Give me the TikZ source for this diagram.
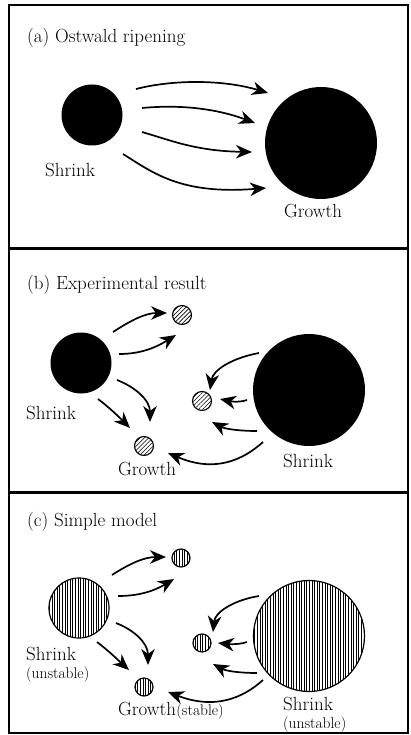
\documentclass[tikz,border=0pt]{standalone}
\usetikzlibrary{arrows.meta,patterns.meta}
\begin{document}
\begin{tikzpicture}[x=1pt,y=-1pt,
  arr/.style={-{Stealth[length=16pt,width=13.5pt,inset=5pt]}, line width=1.7pt},
  frame/.style={line width=1.3pt},
  lbl/.style={inner sep=0pt, anchor=base west, font=\fontsize{19}{22}\selectfont},
  slbl/.style={inner sep=0pt, anchor=base west, font=\fontsize{15.5}{18}\selectfont},
  blk/.style={circle, fill=black, inner sep=0pt, minimum size=#1},
  hb/.style={circle, draw, line width=1.1pt, inner sep=0pt, minimum size=#1,
    pattern={Lines[angle=45,distance=3pt,line width=0.6pt]}},
  hc/.style={circle, draw, line width=1.2pt, inner sep=0pt, minimum size=#1,
    pattern={Lines[angle=90,distance=2.6pt,line width=0.75pt]}}]
\useasboundingbox (0,0) rectangle (410,735);
% frames
\draw[frame] (9,5) rectangle (408,248);
\draw[frame] (9,249) rectangle (408,492);
\draw[frame] (9,493) rectangle (408,733);

% ---------- (a)
\node[lbl] (ta) at (27,43) {(a) Ostwald ripening};
\node[blk=61pt] (as) at (92,115) {};
\node[blk=112pt] (ag) at (321,143) {};
\node[lbl] (las) at (45,177) {Shrink};
\node[lbl] (lag) at (284,218) {Growth};
\coordinate (a1s) at (136,89);  \coordinate (a1e) at (268,93);
\coordinate (a2s) at (142,108); \coordinate (a2e) at (255,123);
\coordinate (a3s) at (142,132); \coordinate (a3e) at (252,152);
\coordinate (a4s) at (123,154); \coordinate (a4e) at (266,188);
\draw[arr] (a1s) .. controls (175,79) and (225,80) .. (a1e);
\draw[arr] (a2s) .. controls (185,104) and (220,110) .. (a2e);
\draw[arr] (a3s) .. controls (170,140) and (195,151) .. (a3e);
\draw[arr] (a4s) .. controls (152,172) and (180,195) .. (a4e);

% ---------- (b)
\node[lbl] (tb) at (27,289) {(b) Experimental result};
\node[blk=61pt] (bs) at (81,363) {};
\node[blk=112pt] (bl) at (309,390) {};
\node[hb=19pt] (bh1) at (182,315) {};
\node[hb=19pt] (bh2) at (202,401) {};
\node[hb=19pt] (bh3) at (144,446) {};
\node[lbl] (lbs) at (26,419) {Shrink};
\node[lbl] (lbg) at (118,475) {Growth};
\node[lbl] (lbl2) at (283,467) {Shrink};
\coordinate (b1s) at (113,332); \coordinate (b1e) at (167,313);
\coordinate (b2s) at (119,354); \coordinate (b2e) at (176,335);
\coordinate (b3s) at (117,380); \coordinate (b3e) at (150,422);
\coordinate (b4s) at (98,399);  \coordinate (b4e) at (130,428);
\coordinate (b5s) at (259,353); \coordinate (b5e) at (210,390);
\coordinate (b6s) at (247,400); \coordinate (b6e) at (220,399);
\coordinate (b7s) at (257,431); \coordinate (b7e) at (212,422);
\coordinate (b8s) at (263,442); \coordinate (b8e) at (168,453);
\draw[arr] (b1s) .. controls (130,321) and (145,313) .. (b1e);
\draw[arr] (b2s) .. controls (140,354) and (155,348) .. (b2e);
\draw[arr] (b3s) .. controls (135,387) and (150,400) .. (b3e);
\draw[arr] (b4s) .. controls (110,408) and (120,418) .. (b4e);
\draw[arr] (b5s) .. controls (232,358) and (213,370) .. (b5e);
\draw[arr] (b6s) .. controls (238,403) and (229,401) .. (b6e);
\draw[arr] (b7s) .. controls (240,431) and (225,429) .. (b7e);
\draw[arr] (b8s) .. controls (243,460) and (215,473) .. (b8e);

% ---------- (c)
\node[lbl] (tc) at (27,526) {(c) Simple model};
\node[hc=60pt] (cs) at (79,608) {};
\node[hc=111pt] (cl) at (309,636) {};
\node[hc=18pt] (ch1) at (181,558) {};
\node[hc=18pt] (ch2) at (202,643) {};
\node[hc=18pt] (ch3) at (144,687) {};
\node[lbl] (lcs) at (26,660) {Shrink};
\node[slbl] (lcsu) at (26,678) {(unstable)};
\node[lbl] (lcg) at (118,715) {Growth};
\node[slbl, anchor=base west] (lcgs) at (lcg.base east) {(stable)};
\node[lbl] (lcl) at (283,710) {Shrink};
\node[slbl] (lclu) at (283,728) {(unstable)};
\coordinate (c1s) at (112,575); \coordinate (c1e) at (166,557);
\coordinate (c2s) at (118,596); \coordinate (c2e) at (174,579);
\coordinate (c3s) at (116,623); \coordinate (c3e) at (148,665);
\coordinate (c4s) at (97,642);  \coordinate (c4e) at (129,670);
\coordinate (c5s) at (259,596); \coordinate (c5e) at (213,632);
\coordinate (c6s) at (247,642); \coordinate (c6e) at (218,643);
\coordinate (c7s) at (257,673); \coordinate (c7e) at (213,664);
\coordinate (c8s) at (263,680); \coordinate (c8e) at (168,692);
\draw[arr] (c1s) .. controls (129,564) and (144,557) .. (c1e);
\draw[arr] (c2s) .. controls (139,596) and (154,591) .. (c2e);
\draw[arr] (c3s) .. controls (134,630) and (148,643) .. (c3e);
\draw[arr] (c4s) .. controls (109,651) and (119,661) .. (c4e);
\draw[arr] (c5s) .. controls (234,600) and (215,612) .. (c5e);
\draw[arr] (c6s) .. controls (238,645) and (228,644) .. (c6e);
\draw[arr] (c7s) .. controls (240,673) and (226,671) .. (c7e);
\draw[arr] (c8s) .. controls (243,698) and (215,710) .. (c8e);
\end{tikzpicture}
\end{document}
